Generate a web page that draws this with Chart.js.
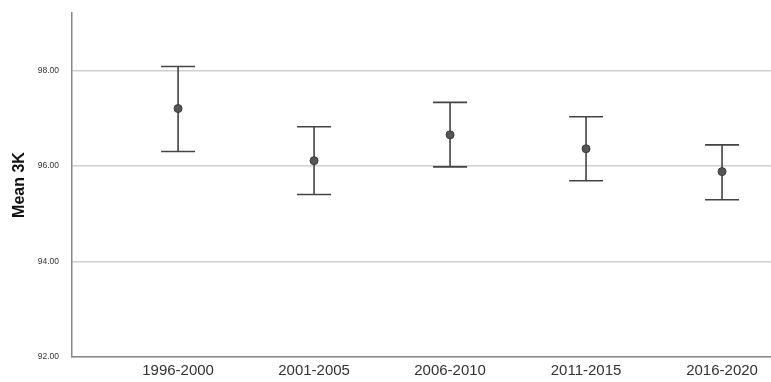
<!DOCTYPE html>
<html>
<head>
<meta charset="utf-8">
<script src="https://cdn.jsdelivr.net/npm/chart.js@4"></script>
<style>
  body { margin: 0; background: #fff; }
</style>
</head>
<body>
<canvas id="meanChart" width="771" height="382"></canvas>
<script>
var categories = ['1996-2000', '2001-2005', '2006-2010', '2011-2015', '2016-2020'];
var means = [97.20, 96.11, 96.65, 96.36, 95.88];
var upper = [98.08, 96.82, 97.33, 97.03, 96.44];
var lower = [96.30, 95.40, 95.98, 95.69, 95.29];
var yTicks = [92, 94, 96, 98];

// error bars drawn from the arrays through the chart scales
var errorBars = {
  id: 'errorBars',
  beforeDatasetsDraw: function(chart) {
    var ctx = chart.ctx;
    var xs = chart.scales.x, ys = chart.scales.y;
    ctx.save();
    ctx.strokeStyle = '#444';
    ctx.lineWidth = 1.6;
    for (var i = 0; i < categories.length; i++) {
      var x = xs.getPixelForValue(i);
      var top = ys.getPixelForValue(upper[i]);
      var bot = ys.getPixelForValue(lower[i]);
      ctx.beginPath();
      ctx.moveTo(x, top); ctx.lineTo(x, bot);
      ctx.moveTo(x - 17, top); ctx.lineTo(x + 17, top);
      ctx.moveTo(x - 17, bot); ctx.lineTo(x + 17, bot);
      ctx.stroke();
    }
    ctx.restore();
  }
};

var chart = new Chart(document.getElementById('meanChart'), {
  type: 'scatter',
  data: {
    datasets: [{
      data: means.map(function(m, i) { return { x: i, y: m }; }),
      backgroundColor: '#555',
      borderColor: '#3a3a3a',
      borderWidth: 1,
      pointRadius: 4
    }]
  },
  options: {
    responsive: false,
    animation: false,
    layout: { autoPadding: false, padding: { top: 13, right: 0, left: 0, bottom: 0 } },
    plugins: { legend: { display: false }, tooltip: { enabled: false } },
    scales: {
      x: {
        type: 'linear',
        min: -0.78,
        max: 4.36,
        afterBuildTicks: function(scale) {
          scale.ticks = categories.map(function(c, i) { return { value: i }; });
        },
        afterFit: function(scale) { scale.height = 25; },
        grid: { display: false, drawTicks: false },
        border: { display: true, color: '#888', width: 1.5 },
        ticks: {
          color: '#333',
          font: { family: 'Liberation Sans, Arial', size: 15 },
          padding: 5,
          maxRotation: 0,
          callback: function(v) { return categories[v]; }
        }
      },
      y: {
        min: 92,
        max: 99.2,
        afterBuildTicks: function(scale) {
          scale.ticks = yTicks.map(function(v) { return { value: v }; });
        },
        afterFit: function(scale) {
          scale.width = 72;
          scale.paddingTop = 0;
          scale.paddingBottom = 0;
        },
        grid: { color: '#cfcfcf', lineWidth: 1.5, drawTicks: false },
        border: { display: true, color: '#888', width: 1.5 },
        title: {
          display: true,
          text: 'Mean 3K',
          color: '#111',
          font: { family: 'Liberation Sans, Arial', size: 16, weight: 'bold' },
          padding: { top: 10, bottom: 0 }
        },
        ticks: {
          color: '#333',
          font: { family: 'Liberation Sans, Arial', size: 8.5 },
          padding: 13,
          callback: function(v) { return v.toFixed(2); }
        }
      }
    }
  },
  plugins: [errorBars]
});
</script>
</body>
</html>
